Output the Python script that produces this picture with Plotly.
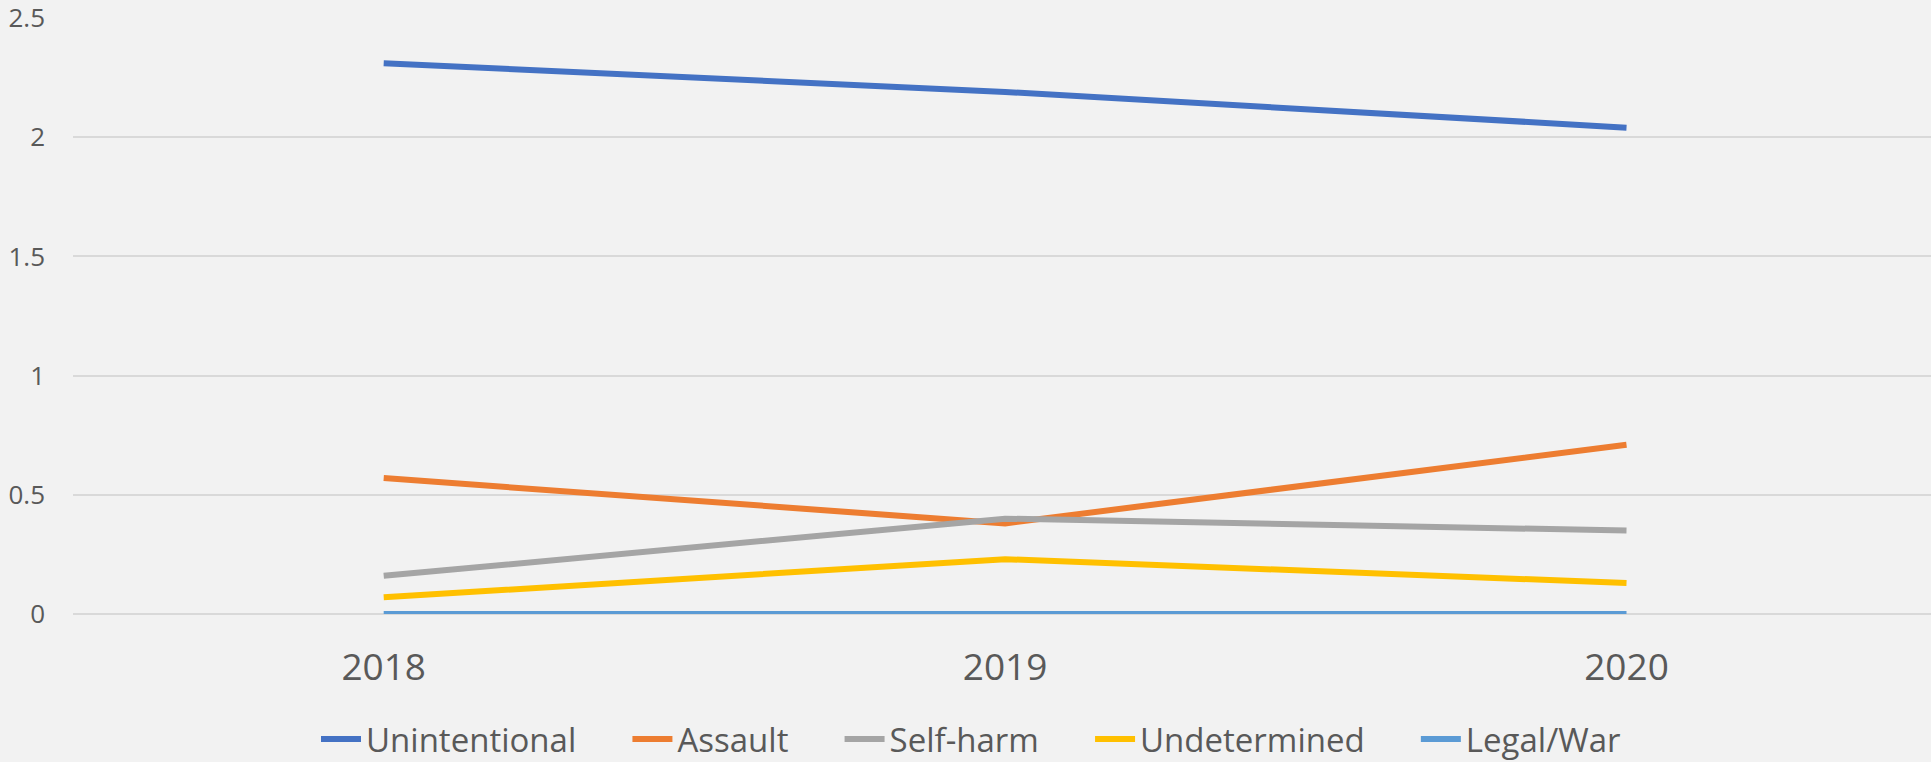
import plotly.graph_objects as go

years = ["2018", "2019", "2020"]
unintentional = [2.31, 2.19, 2.04]
assault = [0.57, 0.38, 0.71]
self_harm = [0.16, 0.40, 0.35]
undetermined = [0.07, 0.23, 0.13]
legal_war = [0, 0, 0]

series = [
    ("Unintentional", unintentional, "#4472C4"),
    ("Assault", assault, "#ED7D31"),
    ("Self-harm", self_harm, "#A5A5A5"),
    ("Undetermined", undetermined, "#FFC000"),
    ("Legal/War", legal_war, "#5B9BD5"),
]

pad = "\u00a0" * 5 + "\u200a"  # extra room between legend entries

fig = go.Figure()
for i, (name, vals, color) in enumerate(series):
    label = name + pad if i < len(series) - 1 else name
    fig.add_trace(go.Scatter(
        x=years, y=vals, mode="lines", name=label,
        line=dict(color=color, width=6),
    ))

fig.update_layout(
    width=1931, height=762,
    paper_bgcolor="#F2F2F2", plot_bgcolor="#F2F2F2",
    margin=dict(l=73, r=0, t=18, b=148),
    font=dict(family="Open Sans", color="#595959"),
    showlegend=True,
    legend=dict(
        orientation="h", xref="container", x=316 / 1931, xanchor="left",
        yref="container", y=0.03, yanchor="middle",
        font=dict(size=33), itemwidth=40,
        bgcolor="rgba(0,0,0,0)",
    ),
)
fig.update_xaxes(
    type="category", range=[-0.5, 2.49],
    showgrid=False, zeroline=False, showline=False,
    tickfont=dict(size=37), ticks="", ticklabelstandoff=28,
)
fig.update_yaxes(
    range=[0, 2.5], dtick=0.5,
    showgrid=True, gridcolor="#D9D9D9", gridwidth=2,
    zeroline=True, zerolinecolor="#D9D9D9", zerolinewidth=2,
    showline=False, tickfont=dict(size=26), ticklabelstandoff=27,
    ticklabeloverflow="allow",
)

# drop the default 8px body margin so the figure fills the window exactly
fig.write_html(
    "out.html",
    config={"displayModeBar": False},
    post_script="document.body.style.margin='0';",
)
